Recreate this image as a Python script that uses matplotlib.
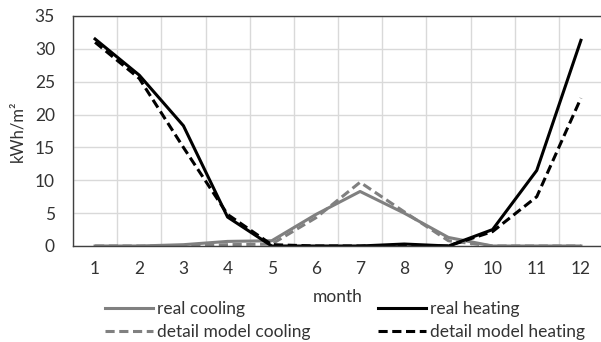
import matplotlib
matplotlib.use("Agg")
import matplotlib.pyplot as plt

months = [1, 2, 3, 4, 5, 6, 7, 8, 9, 10, 11, 12]
real_cooling = [0, 0, 0.2, 0.7, 0.8, 4.8, 8.3, 5.0, 1.3, 0, 0, 0]
detail_cooling = [0, 0, 0, 0.2, 0.3, 4.3, 9.7, 5.2, 0.8, 0, 0, 0]
real_heating = [31.5, 26.0, 18.3, 4.4, 0, 0, 0, 0.3, 0, 2.5, 11.5, 31.3]
detail_heating = [31.0, 25.5, 15.0, 4.8, 0.2, 0, 0, 0.1, 0, 2.2, 7.5, 22.5]
yticks = [0, 5, 10, 15, 20, 25, 30, 35]

plt.rcParams['font.family'] = ['Lato', 'DejaVu Sans']

W, H = 601, 342
fig = plt.figure(figsize=(W / 100, H / 100), dpi=100)
left, right, top, bottom = 73, 603, 16, 246
ax = fig.add_axes([left / W, 1 - bottom / H, (right - left) / W, (bottom - top) / H])

gray = '#808080'
lw = 2.2
FS = 12.5
tc = '#333333'
l1, = ax.plot(months, real_cooling, color=gray, lw=lw, label='real cooling')
l3, = ax.plot(months, detail_cooling, color=gray, lw=lw, ls=(0, (3, 1.5)), label='detail model cooling')
l2, = ax.plot(months, real_heating, color='black', lw=lw, label='real heating')
l4, = ax.plot(months, detail_heating, color='black', lw=lw, ls=(0, (3, 1.5)), label='detail model heating')

ax.set_xlim(0.5, 12.5)
ax.set_ylim(0, 35)
ax.set_yticks(yticks)
ax.set_xticks(months)
ax.set_xticks([m + 0.5 for m in range(0, 13)], minor=True)
ax.grid(True, which='minor', axis='x', color='#d9d9d9', lw=1)
ax.grid(True, which='major', axis='y', color='#d9d9d9', lw=1)
ax.tick_params(which='both', length=0, labelsize=FS, colors=tc)
ax.tick_params(axis='x', pad=11)
ax.tick_params(axis='y', pad=13)
ax.set_axisbelow(True)
for s in ['left', 'top', 'bottom']:
    ax.spines[s].set_color('#404040')
    ax.spines[s].set_linewidth(1)
ax.spines['right'].set_visible(False)

ax.set_ylabel('kWh/m²', fontsize=12, color=tc)
ax.yaxis.set_label_coords((25 - left) / (right - left), 0.5)
fig.text(338 / W, 1 - 297 / H, 'month', ha='center', va='center', fontsize=FS, color=tc)

common = dict(loc='upper left', frameon=False, fontsize=FS, handlelength=2.75, handletextpad=0.25,
              labelspacing=0.42, borderpad=0, borderaxespad=0, labelcolor=tc)
leg1 = fig.legend(handles=[l1, l3], bbox_to_anchor=(105 / W, 1 - 301 / H), **common)
leg2 = fig.legend(handles=[l2, l4], bbox_to_anchor=(378 / W, 1 - 301 / H), **common)

fig.savefig('out.png', dpi=100)
